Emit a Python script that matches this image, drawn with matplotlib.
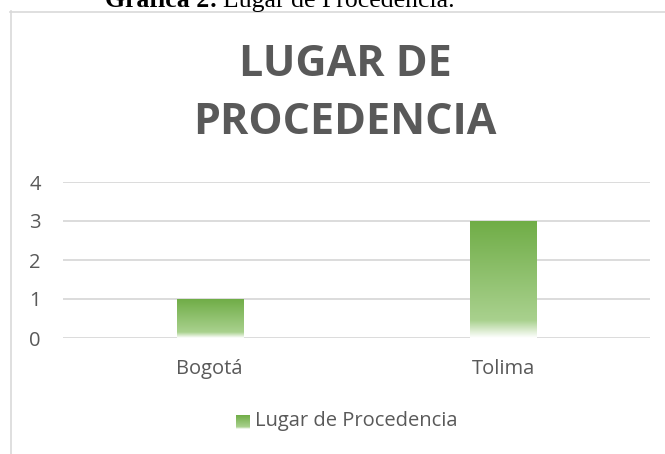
import numpy as np
import matplotlib
matplotlib.use("Agg")
import matplotlib.pyplot as plt
from matplotlib.colors import LinearSegmentedColormap
from matplotlib.lines import Line2D

categories = ["Bogotá", "Tolima"]
values = [1, 3]
series_name = "Lugar de Procedencia"
yticks = [0, 1, 2, 3, 4]

W, H = 665, 454
fig = plt.figure(figsize=(W / 100, H / 100), dpi=100)
fig.patch.set_facecolor("white")

def fx(px):
    return px / W

def fy(py):
    return 1 - py / H

FONT = ["Open Sans", "DejaVu Sans"]
GRAY = "#595959"

# chart border
fig.add_artist(Line2D([fx(10.5), fx(10.5)], [fy(11), 0], color="#d9d9d9", lw=1.2, transform=fig.transFigure))
fig.add_artist(Line2D([fx(10), 1], [fy(11.5), fy(11.5)], color="#d9d9d9", lw=1.2, transform=fig.transFigure))

# document caption (cut off at top, as in the reference)
t1 = fig.text(fx(105), fy(7), "Gráfica 2:", ha="left", va="baseline",
              fontfamily="Liberation Serif", fontsize=18.5, fontweight="bold", color="black")
fig.canvas.draw()
r = fig.canvas.get_renderer()
bb = t1.get_window_extent(renderer=r)
fig.text((bb.x1 + 5) / W, fy(7), "Lugar de Procedencia.", ha="left", va="baseline",
         fontfamily="Liberation Serif", fontsize=18.5, color="black")

# chart title
fig.text(fx(345), fy(65), "LUGAR DE", ha="center", va="center",
         fontfamily=FONT, fontsize=31, fontweight="bold", color=GRAY)
fig.text(fx(345), fy(123), "PROCEDENCIA", ha="center", va="center",
         fontfamily=FONT, fontsize=31, fontweight="bold", color=GRAY)

ax = fig.add_axes([fx(63), fy(338), fx(650) - fx(63), (338 - 182) / H])
ax.set_xlim(-0.5, len(categories) - 0.5)
ax.set_ylim(0, 4)
ax.set_yticks(yticks)
ax.set_yticklabels([str(v) for v in yticks], fontfamily=FONT, fontsize=14.5, color=GRAY)
ax.set_xticks(range(len(categories)))
ax.set_xticklabels(categories, fontfamily=FONT, fontsize=14.5, color=GRAY)
ax.tick_params(length=0)
ax.tick_params(axis="y", pad=16)
ax.tick_params(axis="x", pad=15)
for s in ax.spines.values():
    s.set_visible(False)
ax.grid(axis="y", color="#d9d9d9", lw=1.3)
ax.set_axisbelow(True)

cmap = LinearSegmentedColormap.from_list(
    "g", [(0.0, "#ffffff"), (0.15, "#a9d18e"), (1.0, "#70ad47")])
grad = np.linspace(0, 1, 256).reshape(-1, 1)
bw = 0.225
bars = ax.bar(range(len(categories)), values, width=bw, color="none", edgecolor="none", zorder=2)
for b, v in zip(bars, values):
    x0 = b.get_x()
    im = ax.imshow(grad, cmap=cmap, origin="lower", aspect="auto",
                   extent=[x0, x0 + bw, 0, v], zorder=2)
    im.set_clip_path(b)
ax.set_xlim(-0.5, len(categories) - 0.5)
ax.set_ylim(0, 4)

# legend
lax = fig.add_axes([fx(236), fy(429), fx(250) - fx(236), 14 / H])
lax.imshow(grad, cmap=cmap, origin="lower", aspect="auto")
lax.axis("off")
fig.text(fx(255), fy(421), series_name, ha="left", va="center",
         fontfamily=FONT, fontsize=14.5, color=GRAY)

fig.savefig("out.png", dpi=100)
